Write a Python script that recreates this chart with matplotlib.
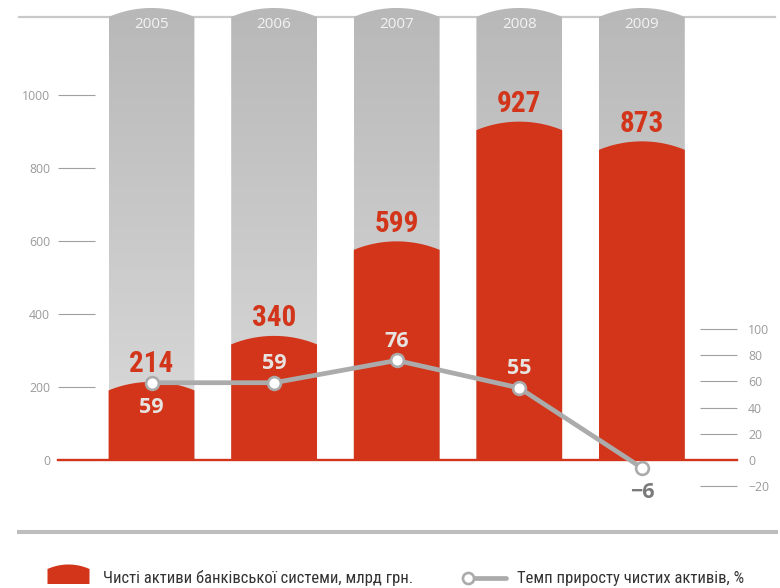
import numpy as np
import matplotlib
matplotlib.use("Agg")
import matplotlib.pyplot as plt
from matplotlib.path import Path
from matplotlib.patches import PathPatch
from matplotlib.lines import Line2D
from matplotlib.colors import LinearSegmentedColormap

years = ["2005", "2006", "2007", "2008", "2009"]
assets = [214, 340, 599, 927, 873]          # млрд грн.
growth = [59, 59, 76, 55, -6]               # %
growth_label_above = [False, True, True, True, False]

asset_ticks = [0, 200, 400, 600, 800, 1000]
growth_ticks = [-20, 0, 20, 40, 60, 80, 100]

RED = "#d2351a"
LINE_GREY = "#ababab"
TICK_GREY = "#a0a0a0"
TEXT_GREY = "#9a9a9a"
NARROW = ["Liberation Sans Narrow", "Roboto Condensed", "DejaVu Sans Condensed", "DejaVu Sans"]
SANS = ["Open Sans", "DejaVu Sans"]

W, H, DPI = 780, 588, 100
ZERO_PX = 460          # pixel row of the zero line
LEFT_PPU = 0.365       # pixels per bln UAH
RIGHT_PPU = 1.31       # pixels per percent
SLOT_PX = 122.6
FIRST_PX = 151.5
AX_LEFT, AX_RIGHT = 95, 700
BAR_W = 0.70

fig = plt.figure(figsize=(W / DPI, H / DPI), dpi=DPI)
ax = fig.add_axes([AX_LEFT / W, 0, (AX_RIGHT - AX_LEFT) / W, 1])
ax2 = ax.twinx()
ax.set_autoscale_on(False)
ax2.set_autoscale_on(False)

ylim_left = (-(H - ZERO_PX) / LEFT_PPU, ZERO_PX / LEFT_PPU)
ylim_right = (-(H - ZERO_PX) / RIGHT_PPU, ZERO_PX / RIGHT_PPU)
xlim = ((AX_LEFT - FIRST_PX) / SLOT_PX, (AX_RIGHT - FIRST_PX) / SLOT_PX)
ax.set_xlim(*xlim)
ax.set_ylim(*ylim_left)
ax2.set_ylim(*ylim_right)


def arch_verts(xc, y_side, rise_px, ppu, bottom=0.0, n=80):
    """Bar outline with a rounded (circular arc) top, in data units."""
    hw_px = BAR_W / 2 * SLOT_PX
    r = (hw_px ** 2 + rise_px ** 2) / (2 * rise_px)
    u = np.linspace(-hw_px, hw_px, n)
    h = (np.sqrt(r ** 2 - u ** 2) - (r - rise_px)) / ppu
    xs = xc + u / SLOT_PX
    verts = [(xs[0], bottom)] + list(zip(xs, y_side + h)) + [(xs[-1], bottom), (xs[0], bottom)]
    codes = [Path.MOVETO] + [Path.LINETO] * (n + 1) + [Path.CLOSEPOLY]
    return Path(verts, codes)


x = np.arange(len(years))

# grey background columns with vertical gradient
bg_side = (ZERO_PX - 17) / LEFT_PPU
bg_rise = 9
bg_peak = bg_side + bg_rise / LEFT_PPU
grad = LinearSegmentedColormap.from_list("bg", ["#dbdbdb", "#b8b8b8"])
ax.axhline(bg_side, xmin=(19 - AX_LEFT) / (AX_RIGHT - AX_LEFT),
           xmax=(775 - AX_LEFT) / (AX_RIGHT - AX_LEFT),
           color="#c9c9c9", lw=1.6, clip_on=False, zorder=0.5)
for xc in x:
    p = PathPatch(arch_verts(xc, bg_side, bg_rise, LEFT_PPU), facecolor="none",
                  edgecolor="none")
    ax.add_patch(p)
    im = ax.imshow(np.linspace(0, 1, 256).reshape(-1, 1), cmap=grad, origin="lower",
                   extent=[xc - BAR_W / 2, xc + BAR_W / 2, 0, bg_peak],
                   aspect="auto", zorder=1, clip_on=True)
    im.set_clip_path(p)

# red columns: the crest of the arc sits at the value
rise = 8.5
for xc, v in zip(x, assets):
    ax.add_patch(PathPatch(arch_verts(xc, v - rise / LEFT_PPU, rise, LEFT_PPU),
                           facecolor=RED, edgecolor="none", zorder=2))
    ax.annotate(str(v), (xc, v), xytext=(0, 6.8), textcoords="offset points",
                ha="center", va="baseline", color=RED, fontsize=21,
                fontweight="bold", family=NARROW, fontstretch="condensed", zorder=4)

# year captions inside the grey columns
for xc, yr in zip(x, years):
    ax.text(xc, 1 - 24 / H, yr, transform=ax.get_xaxis_transform(),
            ha="center", va="center", color="#f3f3f3", fontsize=11, family=SANS,
            zorder=3)

# axes styling
for a in (ax, ax2):
    for s in a.spines.values():
        s.set_visible(False)
ax.set_xticks([])
ax.set_yticks(asset_ticks)
ax.tick_params(axis="y", direction="out", length=26.6, width=0.8, color=TICK_GREY,
               pad=5.8, labelsize=8.8, labelcolor=TEXT_GREY)
ax2.set_yticks(growth_ticks)
ax2.tick_params(axis="y", direction="out", length=26.6, width=0.8, color=TICK_GREY,
                pad=7.9, labelsize=8.8, labelcolor=TEXT_GREY)
for lab in ax.get_yticklabels() + ax2.get_yticklabels():
    lab.set_family(SANS)

# red zero line across both scales
ax2.axhline(0, xmin=(58 - AX_LEFT) / (AX_RIGHT - AX_LEFT),
            xmax=(737 - AX_LEFT) / (AX_RIGHT - AX_LEFT),
            color=RED, lw=1.7, clip_on=False, zorder=2.6)

# growth rate line
ax2.plot(x, growth, color=LINE_GREY, lw=3.4, zorder=3, solid_capstyle="round",
         marker="o", markersize=9.2, markerfacecolor="white",
         markeredgecolor=LINE_GREY, markeredgewidth=1.9)
for xc, g, above in zip(x, growth, growth_label_above):
    txt = f"{g}".replace("-", "\u2212")
    color = "#e6e3e1" if g >= 0 else "#7a7a7a"
    ax2.annotate(txt, (xc, g), xytext=(0, 10 if above else -21.6),
                 textcoords="offset points", ha="center", va="baseline",
                 color=color, fontsize=15.5, fontweight="bold", family=SANS,
                 zorder=4)

# footer separator
fig.add_artist(Line2D([19 / W, 776 / W], [1 - 532 / H] * 2, color="#bdbdbd",
                      lw=2.9, transform=fig.transFigure))

# legend
def fig_pt(px, py):
    return px / W, 1 - py / H

hw, top, bot, leg_rise = 21, 569, 584, 4.5
r = (hw ** 2 + leg_rise ** 2) / (2 * leg_rise)
u = np.linspace(-hw, hw, 40)
arc = [fig_pt(68.5 + uu, top - (np.sqrt(r ** 2 - uu ** 2) - (r - leg_rise))) for uu in u]
leg_verts = [fig_pt(47.5, bot)] + arc + [fig_pt(89.5, bot), fig_pt(47.5, bot)]
leg_codes = [Path.MOVETO] + [Path.LINETO] * (len(arc) + 1) + [Path.CLOSEPOLY]
fig.add_artist(PathPatch(Path(leg_verts, leg_codes), facecolor=RED, edgecolor="none",
                         transform=fig.transFigure))
fig.text(103 / W, 1 - 578 / H, "Чисті активи банківської системи, млрд грн.",
         ha="left", va="center", fontsize=12, color="#333333", family=NARROW,
         fontstretch="condensed")

fig.add_artist(Line2D([468 / W, 506 / W], [1 - 578 / H] * 2, color=LINE_GREY,
                      lw=3.4, solid_capstyle="round", transform=fig.transFigure))
fig.add_artist(Line2D([468 / W], [1 - 578 / H], marker="o", markersize=8,
                      markerfacecolor="white", markeredgecolor=LINE_GREY,
                      markeredgewidth=1.9, transform=fig.transFigure))
fig.text(517 / W, 1 - 578 / H, "Темп приросту чистих активів, %",
         ha="left", va="center", fontsize=12, color="#333333", family=NARROW,
         fontstretch="condensed")

fig.savefig("out.png", dpi=DPI)
